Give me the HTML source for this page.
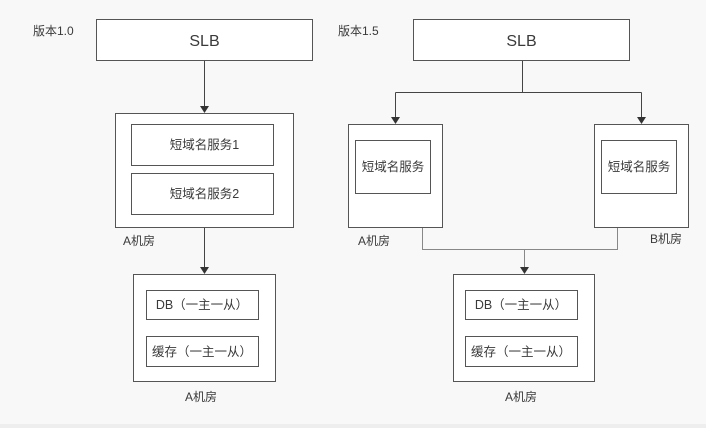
<!DOCTYPE html>
<html><head><meta charset="utf-8"><style>
html,body{margin:0;padding:0;background:#f8f8f8;}
svg{display:block}
text{font-family:"Liberation Sans","Noto Sans CJK SC",sans-serif;fill:#3a3a3a;}
</style></head><body>
<svg width="706" height="428" viewBox="0 0 706 428" xmlns="http://www.w3.org/2000/svg">
<rect x="0" y="424" width="706" height="4" fill="#eeeeee"/>
<g fill="#fff" stroke="#555" stroke-width="1">
<rect x="96.5" y="19.5" width="216" height="41"/>
<rect x="115.5" y="113.5" width="178" height="114"/>
<rect x="131.5" y="124.5" width="142" height="41"/>
<rect x="131.5" y="173.5" width="142" height="41"/>
<rect x="133.5" y="274.5" width="142" height="107"/>
<rect x="146.5" y="290.5" width="112" height="29"/>
<rect x="146.5" y="336.5" width="112" height="30"/>
<rect x="413.5" y="19.5" width="216" height="41"/>
<rect x="348.5" y="124.5" width="94" height="103"/>
<rect x="355.5" y="140.5" width="75" height="53"/>
<rect x="594.5" y="124.5" width="94" height="103"/>
<rect x="601.5" y="140.5" width="75" height="53"/>
<rect x="453.5" y="274.5" width="141" height="107"/>
<rect x="465.5" y="290.5" width="112" height="29"/>
<rect x="465.5" y="336.5" width="112" height="30"/>
</g>
<g stroke="#444" stroke-width="1" fill="none">
<path d="M204.5 61 V106"/><path d="M204.5 228 V267"/>
<path d="M522.5 61 V92.5 M395.5 92.5 H641.5 M395.5 92.5 V117 M641.5 92.5 V117"/>
<path d="M422.5 228 V249.5 H617.5 V228 M524.5 249.5 V267" stroke="#888"/>
</g>
<g fill="#333">
<path d="M200 106 L209 106 L204.5 113 z"/><path d="M200 267 L209 267 L204.5 274 z"/>
<path d="M391 117 L400 117 L395.5 124 z"/><path d="M637 117 L646 117 L641.5 124 z"/>
<path d="M520 267 L529 267 L524.5 274 z"/>
</g>
<g font-size="12">
<text x="33" y="35">版本1.0</text>
<text x="338" y="35">版本1.5</text>
<text x="123" y="245">A机房</text>
<text x="185" y="401">A机房</text>
<text x="358" y="245">A机房</text>
<text x="650" y="243">B机房</text>
<text x="505" y="401">A机房</text>
</g>
<g font-size="12.5" text-anchor="middle">
<text x="204.5" y="149">短域名服务1</text>
<text x="204.5" y="198">短域名服务2</text>
<text x="202" y="309">DB（一主一从）</text>
<text x="202" y="356">缓存（一主一从）</text>
<text x="393" y="171">短域名服务</text>
<text x="639" y="171">短域名服务</text>
<text x="521" y="309">DB（一主一从）</text>
<text x="521" y="356">缓存（一主一从）</text>
</g>
<g font-size="16" text-anchor="middle">
<text x="204.5" y="46">SLB</text>
<text x="521.5" y="46">SLB</text>
</g>
</svg>
</body></html>
